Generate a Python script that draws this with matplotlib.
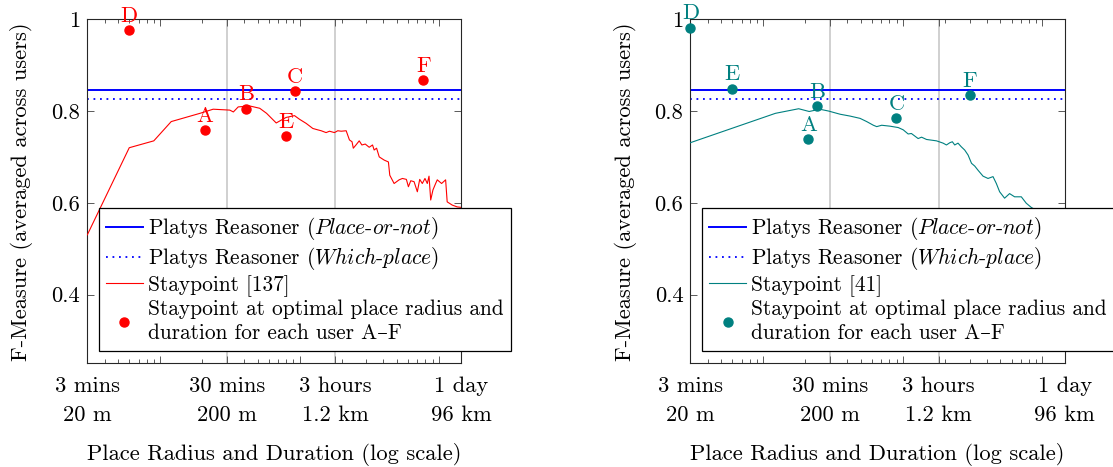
import matplotlib
matplotlib.use("Agg")
import matplotlib.pyplot as plt
from matplotlib.lines import Line2D
import numpy as np

# ---------------- data ----------------
tick_vals = [3, 30, 180, 1440]
tick_labels = ["3 mins\n20 m", "30 mins\n200 m", "3 hours\n1.2 km", "1 day\n96 km"]

platys_place_or_not = 0.846
platys_which_place = 0.826

sp1_x = [3, 6, 9, 12, 19.3, 24, 31.6, 33.5, 36.3, 44, 51.8, 58, 68, 80, 92, 100, 111.6, 124.5, 135, 143,
         155, 164, 178, 188, 199, 216, 228, 238, 243, 254, 268, 280, 296, 316, 334, 343, 357, 373, 405, 434,
         444, 477, 518, 547, 584, 604, 628, 663, 700, 728, 760, 794, 825, 849, 873, 906, 947, 973, 1045, 1117,
         1146, 1245, 1352, 1440]
sp1_y = [0.53, 0.72, 0.735, 0.777, 0.795, 0.804, 0.802, 0.798, 0.809, 0.811, 0.806, 0.795, 0.774, 0.786, 0.79,
         0.782, 0.773, 0.762, 0.759, 0.757, 0.753, 0.756, 0.753, 0.757, 0.756, 0.757, 0.737, 0.733, 0.719, 0.726,
         0.735, 0.726, 0.728, 0.721, 0.726, 0.715, 0.719, 0.70, 0.693, 0.689, 0.66, 0.642, 0.650, 0.653, 0.651,
         0.635, 0.648, 0.646, 0.624, 0.651, 0.642, 0.653, 0.642, 0.658, 0.606, 0.628, 0.642, 0.650, 0.642, 0.650,
         0.602, 0.595, 0.591, 0.59]

sp2_x = [3, 12.2, 17.9, 21.3, 25.3, 29.3, 35.5, 41.8, 49.3, 55, 61.4, 64.9, 70.4, 80.7, 92.5, 100.5, 109, 115,
         128.5, 136, 147.6, 174, 194, 205, 217, 226, 235, 248, 262, 277, 293, 310, 327, 345, 375, 407, 442, 467,
         493, 535, 581, 631, 705, 765, 830, 1000, 1440]
sp2_y = [0.731, 0.795, 0.805, 0.799, 0.804, 0.80, 0.793, 0.789, 0.784, 0.777, 0.769, 0.766, 0.769, 0.767, 0.764,
         0.759, 0.75, 0.751, 0.74, 0.743, 0.738, 0.735, 0.73, 0.726, 0.731, 0.733, 0.726, 0.73, 0.722, 0.715,
         0.704, 0.686, 0.68, 0.671, 0.658, 0.653, 0.657, 0.642, 0.624, 0.61, 0.62, 0.613, 0.613, 0.599, 0.59,
         0.575, 0.55]

users = ["A", "B", "C", "D", "E", "F"]
opt1_x = [21, 41.6, 92, 6.0, 80, 772]
opt1_y = [0.758, 0.805, 0.844, 0.977, 0.745, 0.868]
opt2_x = [21, 24.2, 89.8, 3, 6.0, 302]
opt2_y = [0.738, 0.811, 0.785, 0.982, 0.849, 0.834]

sp1_label = "Staypoint [137]"
sp2_label = "Staypoint [41]"

# ---------------- style ----------------
plt.rcParams["font.family"] = ["cmr10", "DejaVu Serif"]
plt.rcParams["mathtext.fontset"] = "cm"
plt.rcParams["axes.formatter.use_mathtext"] = True
plt.rcParams["axes.unicode_minus"] = False
FS = 16.2
LFS = 15.4

W, H = 1113, 467
fig = plt.figure(figsize=(W / 100, H / 100), dpi=100)


def px_axes(x0, x1, y0, y1):
    return fig.add_axes([x0 / W, (H - y1) / H, (x1 - x0) / W, (y1 - y0) / H])


AX_Y0, AX_Y1 = 19.3, 363.3
ax1 = px_axes(87.3, 461, AX_Y0, AX_Y1)
ax2 = px_axes(690.4, 1064.6, AX_Y0, AX_Y1)


def setup(ax, x0, x1, sx, sy, color, sp_label, ox, oy):
    ax.set_xscale("log")
    ax.set_xlim(3, 1440)
    ax.set_ylim(0.25, 1.0)
    for v in (30, 180):
        ax.axvline(v, color="#c8c8c8", lw=1.2, zorder=0.5)
    ax.axhline(platys_place_or_not, color="blue", lw=1.4, zorder=2)
    ax.axhline(platys_which_place, color="blue", lw=1.3, ls=(0, (1, 2.6)), zorder=2)
    ax.plot(sx, sy, color=color, lw=0.8, zorder=3)
    ax.plot(ox, oy, "o", color=color, ms=6.5, ls="none", zorder=4, clip_on=False)
    for lab, x, y in zip(users, ox, oy):
        ax.annotate(lab, (x, y), xytext=(0, 6), textcoords="offset points",
                    ha="center", va="baseline", color=color, fontsize=FS,
                    annotation_clip=False)
    # ticks
    majors = [3, 10, 30, 100, 180, 1000, 1440]
    majlabels = []
    for m in majors:
        if m in tick_vals:
            majlabels.append(tick_labels[tick_vals.index(m)])
        else:
            majlabels.append("")
    ax.set_xticks(majors)
    ax.set_xticklabels(majlabels)
    minors = [k * 10 ** n for n in range(0, 4) for k in range(2, 10)
              if 3 < k * 10 ** n < 1440 and k * 10 ** n not in majors]
    ax.set_xticks(minors, minor=True)
    ax.set_xticklabels([], minor=True)
    ax.set_yticks([0.4, 0.6, 0.8, 1.0])
    ax.set_yticklabels(["0.4", "0.6", "0.8", "1"])
    ax.tick_params(axis="both", which="both", direction="in", top=True, right=True,
                   color="0.35", labelsize=FS, width=0.7)
    ax.tick_params(axis="both", which="major", length=5)
    ax.tick_params(axis="both", which="minor", length=3)
    ax.tick_params(axis="x", which="major", pad=9.5)
    ax.tick_params(axis="y", which="major", pad=5)
    for t in ax.get_xticklabels():
        t.set_linespacing(1.6)
    for s in ax.spines.values():
        s.set_color("0.15")
        s.set_linewidth(0.8)

    cx = (x0 + x1) / 2
    fig.text(cx / W, 1 - 454.5 / H, "Place Radius and Duration (log scale)",
             fontsize=FS, ha="center", va="center")
    fig.text((x0 - 65.3) / W, 1 - ((AX_Y0 + AX_Y1) / 2) / H,
             "F-Measure (averaged across users)", fontsize=FS,
             rotation=90, ha="center", va="center")

    handles = [
        Line2D([], [], color="blue", lw=1.4),
        Line2D([], [], color="blue", lw=1.3, ls=(0, (1, 2.6))),
        Line2D([], [], color=color, lw=0.8),
        Line2D([], [], color=color, marker="o", ms=6.5, ls="none"),
    ]
    labels = [
        r"Platys Reasoner ($\mathit{Place}$-$\mathit{or}$-$\mathit{not}$)",
        r"Platys Reasoner ($\mathit{Which}$-$\mathit{place}$)",
        sp_label,
        "Staypoint at optimal place radius and\nduration for each user A\u2013F",
    ]
    leg = ax.legend(handles, labels, loc="upper left",
                    bbox_to_anchor=(0.031, 0.4515), borderaxespad=0,
                    fontsize=LFS, frameon=True, fancybox=False, framealpha=1,
                    edgecolor="black", handlelength=1.73, handletextpad=0.23,
                    borderpad=0.33, labelspacing=0.14)
    for t in leg.get_texts():
        t.set_linespacing(1.3)
    leg.get_frame().set_linewidth(0.9)
    leg.set_zorder(10)


setup(ax1, 87.3, 461, sp1_x, sp1_y, "red", sp1_label, opt1_x, opt1_y)
setup(ax2, 690.4, 1064.6, sp2_x, sp2_y, "#008080", sp2_label, opt2_x, opt2_y)

fig.savefig("out.png", dpi=100)
